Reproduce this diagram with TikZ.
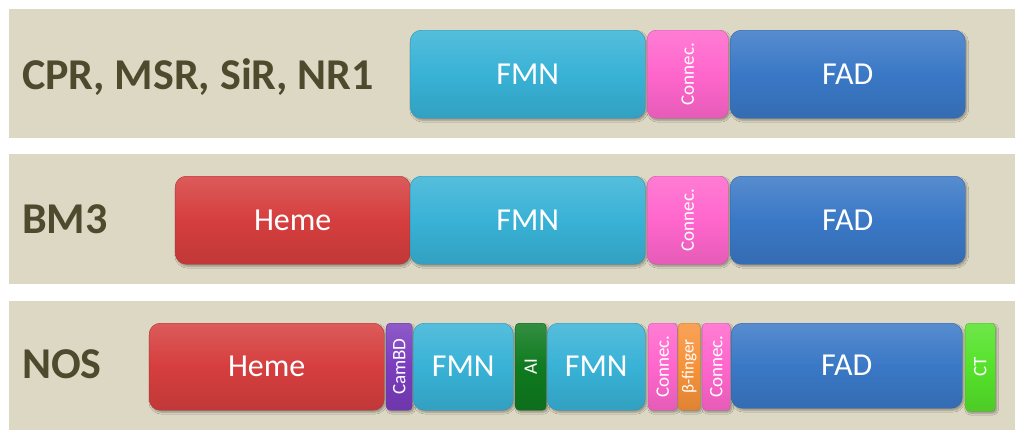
\documentclass[tikz,border=0pt]{standalone}
\usepackage{fontspec}
\setmainfont{Carlito}
\usetikzlibrary{shadows.blur}
\definecolor{panelbg}{HTML}{DDD8C4}
\definecolor{labeltxt}{HTML}{4D4A2E}
\definecolor{fmncol}{HTML}{38B2D6}
\definecolor{concol}{HTML}{FF66CC}
\definecolor{fadcol}{HTML}{3A78C6}
\definecolor{hemecol}{HTML}{D63E3E}
\definecolor{cambcol}{HTML}{7A3DBE}
\definecolor{aicol}{HTML}{0F7A1F}
\definecolor{betacol}{HTML}{F7923A}
\definecolor{ctcol}{HTML}{55E22A}
\tikzset{
  panel/.style={fill=panelbg, draw=none},
  rowlabel/.style={text=labeltxt, font=\bfseries\fontsize{44}{48}\selectfont, anchor=west, inner sep=0pt},
  dom/.style={draw=#1!85!black, line width=0.4pt, rounded corners=11pt, top color=#1!85!white, bottom color=#1!90!black, middle color=#1,
    blur shadow={shadow xshift=1.5pt, shadow yshift=-2pt, shadow blur steps=6, shadow opacity=35},
    text=white, anchor=north west, inner sep=0pt, font=\fontsize{32}{35}\selectfont},
  sdom/.style={dom=#1, rounded corners=4pt, font=\fontsize{19}{21}\selectfont},
}
\begin{document}
\begin{tikzpicture}[x=1pt,y=-1pt]
\useasboundingbox (0,0) rectangle (1024,440);
\fill[white] (0,0) rectangle (1024,440);
% panels
\node[panel, minimum width=1006pt, minimum height=129pt, anchor=north west, inner sep=0pt] (p1) at (9,9) {};
\node[panel, minimum width=1006pt, minimum height=130pt, anchor=north west, inner sep=0pt] (p2) at (9,154) {};
\node[panel, minimum width=1006pt, minimum height=129pt, anchor=north west, inner sep=0pt] (p3) at (9,301) {};
% labels
\node[rowlabel] (l1) at (22,77) {CPR, MSR, SiR, NR1};
\node[rowlabel] (l2) at (22,219) {BM3};
\node[rowlabel] (l3) at (22,364) {NOS};
% row 1
\node[dom=fmncol, minimum width=235pt, minimum height=88pt] (r1fmn) at (410,30) {FMN};
\node[sdom=concol, minimum width=81pt, minimum height=88pt, rounded corners=9pt] (r1con) at (647,30) {\rotatebox{90}{Connec.}};
\node[dom=fadcol, minimum width=235pt, minimum height=88pt] (r1fad) at (730,30) {FAD};
% row 2
\node[dom=hemecol, minimum width=235pt, minimum height=88pt] (r2heme) at (175,176) {Heme};
\node[dom=fmncol, minimum width=235pt, minimum height=88pt] (r2fmn) at (410,176) {FMN};
\node[sdom=concol, minimum width=81pt, minimum height=88pt, rounded corners=9pt] (r2con) at (647,176) {\rotatebox{90}{Connec.}};
\node[dom=fadcol, minimum width=235pt, minimum height=88pt] (r2fad) at (730,176) {FAD};
% row 3
\node[dom=hemecol, minimum width=235pt, minimum height=87pt] (r3heme) at (149,323) {Heme};
\node[sdom=cambcol, minimum width=26pt, minimum height=87pt] (r3camb) at (386,323) {\rotatebox{90}{CamBD}};
\node[dom=fmncol, minimum width=100pt, minimum height=87pt] (r3fmn1) at (413,323) {FMN};
\node[sdom=aicol, minimum width=31pt, minimum height=87pt] (r3ai) at (515,323) {\rotatebox{90}{AI}};
\node[dom=fmncol, minimum width=98pt, minimum height=87pt] (r3fmn2) at (547,323) {FMN};
\node[sdom=concol, minimum width=29pt, minimum height=87pt] (r3con1) at (648,323) {\rotatebox{90}{Connec.}};
\node[sdom=betacol, minimum width=22pt, minimum height=87pt, font=\fontsize{17}{19}\selectfont] (r3beta) at (678,323) {\rotatebox{90}{β-finger}};
\node[sdom=concol, minimum width=28pt, minimum height=87pt] (r3con2) at (702,323) {\rotatebox{90}{Connec.}};
\node[dom=fadcol, minimum width=231pt, minimum height=85pt] (r3fad) at (731,323) {FAD};
\node[sdom=ctcol, minimum width=30pt, minimum height=88pt] (r3ct) at (965,323) {\rotatebox{90}{CT}};
\end{tikzpicture}
\end{document}
